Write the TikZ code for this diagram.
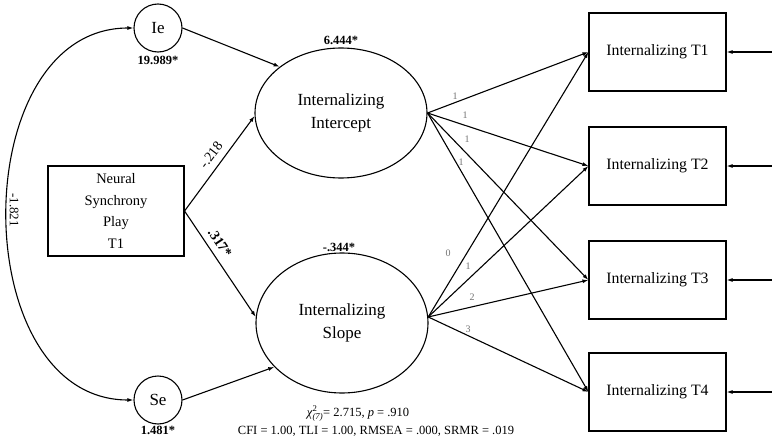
\documentclass[tikz,border=0pt]{standalone}
\usepackage{amsmath}
\usepackage{fontspec}
\setmainfont{Liberation Serif}
\usetikzlibrary{shapes.geometric,arrows.meta}

\begin{document}
\begin{tikzpicture}[x=1pt,y=-1pt,line width=1.1pt,>={Latex[length=6pt,width=4pt]},
  obs/.style={draw,rectangle,minimum width=137pt,minimum height=78pt,font=\fontsize{15.8}{22}\selectfont},
  lat/.style={draw,ellipse,minimum width=172pt,align=center,font=\fontsize{17}{23}\selectfont},
  res/.style={draw,circle,minimum size=48pt,inner sep=0pt,font=\fontsize{17}{18}\selectfont},
  est/.style={font=\fontsize{12.5}{14}\selectfont\bfseries},
  ld/.style={text=gray!90!black,font=\fontsize{10}{12}\selectfont}]
\useasboundingbox (0,0) rectangle (772,439);
\node[res] (ie) at (158,28) {Ie};
\node[res] (se) at (158,400) {Se};
\node[draw,rectangle,minimum width=136pt,minimum height=90pt,align=center,font=\fontsize{14.5}{21.5}\selectfont] (nsp) at (116,211) {Neural\\Synchrony\\Play\\T1};
\node[lat,minimum height=130pt] (icpt) at (341,113) {Internalizing\\Intercept};
\node[lat,minimum height=140pt] (slp) at (342,323) {Internalizing\\Slope};
\node[obs] (t1) at (657.5,52) {Internalizing T1};
\node[obs] (t2) at (657.5,166) {Internalizing T2};
\node[obs] (t3) at (657.5,280) {Internalizing T3};
\node[obs] (t4) at (657.5,392) {Internalizing T4};
\coordinate (e1) at (772,52);
\coordinate (e2) at (772,166);
\coordinate (e3) at (772,280);
\coordinate (e4) at (772,392);
\draw[<->] (ie.west) .. controls (-35,28) and (-35,400) .. (se.west);
\draw[->] (ie.east) -- (icpt.143);
\draw[->] (se.east) -- (slp.213);
\draw[->] (nsp.east) -- (icpt.182);
\draw[->] (nsp.east) -- (slp.176);
\draw[->] (icpt.east) -- (t1.west);
\draw[->] (icpt.east) -- (t2.west);
\draw[->] (icpt.east) -- (t3.west);
\draw[->] (icpt.east) -- (t4.west);
\draw[->] (slp.4) -- (t1.west);
\draw[->] (slp.4) -- (t2.west);
\draw[->] (slp.4) -- (t3.west);
\draw[->] (slp.4) -- (t4.west);
\draw[->] (e1) -- (t1.east);
\draw[->] (e2) -- (t2.east);
\draw[->] (e3) -- (t3.east);
\draw[->] (e4) -- (t4.east);
\node[est] (vie) at (158,60) {19.989*};
\node[est] (vse) at (158,430) {1.481*};
\node[est] (micpt) at (341,40) {6.444*};
\node[est] (mslp) at (339,247) {-.344*};
\node[rotate=-90,font=\fontsize{13}{15}\selectfont] (cov) at (14,210) {-1.821};
\node[rotate=53,font=\fontsize{14}{15}\selectfont] (bicpt) at (211,155) {-.218};
\node[rotate=-56,font=\fontsize{14}{15}\selectfont\bfseries] (bslp) at (220,243) {.317*};
\node[ld] (l11) at (455,96) {1};
\node[ld] (l12) at (465,115) {1};
\node[ld] (l13) at (467,139) {1};
\node[ld] (l14) at (461,162) {1};
\node[ld] (l21) at (448,253) {0};
\node[ld] (l22) at (468,266) {1};
\node[ld] (l23) at (472,297) {2};
\node[ld] (l24) at (468,329) {3};
\node[font=\fontsize{12.5}{14}\selectfont] (fit1) at (358,414) {\textit{χ}$^{\textrm{2}}_{\textit{(7)}}$= 2.715, \textit{p} = .910};
\node[font=\fontsize{12.5}{14}\selectfont] (fit2) at (376,431) {CFI = 1.00, TLI = 1.00, RMSEA = .000, SRMR = .019};
\end{tikzpicture}
\end{document}
